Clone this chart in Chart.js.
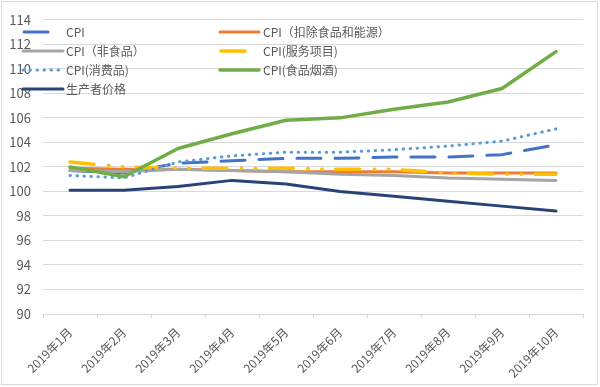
<!DOCTYPE html>
<html><head><meta charset="utf-8">
<script src="https://cdn.jsdelivr.net/npm/chart.js@4.4.0/dist/chart.umd.min.js"></script>
<style>
html,body{margin:0;padding:0;background:#fff;}
#wrap{position:absolute;left:0;top:0;width:600px;height:387px;}
</style></head>
<body><div id="wrap"><canvas id="c" width="600" height="387"></canvas></div>
<script>
const categories = ['2019年1月','2019年2月','2019年3月','2019年4月','2019年5月','2019年6月','2019年7月','2019年8月','2019年9月','2019年10月'];
const cpi      = [101.7, 101.5, 102.3, 102.5, 102.7, 102.7, 102.8, 102.8, 103.0, 103.8];
const coreCpi  = [101.9, 101.8, 101.8, 101.7, 101.6, 101.6, 101.6, 101.5, 101.5, 101.5];
const nonFood  = [101.7, 101.6, 101.8, 101.7, 101.6, 101.4, 101.3, 101.1, 101.0, 100.9];
const services = [102.4, 102.0, 101.9, 101.9, 101.9, 101.8, 101.8, 101.5, 101.4, 101.4];
const goods    = [101.3, 101.1, 102.4, 102.9, 103.2, 103.2, 103.4, 103.7, 104.1, 105.1];
const food     = [102.0, 101.2, 103.5, 104.7, 105.8, 106.0, 106.7, 107.3, 108.4, 111.4];
const ppi      = [100.1, 100.1, 100.4, 100.9, 100.6, 100.0, 99.6, 99.2, 98.8, 98.4];
const yTicks   = [90, 92, 94, 96, 98, 100, 102, 104, 106, 108, 110, 112, 114];

const FONT = '"Noto Sans CJK SC", "Noto Sans", sans-serif';
const TXT = '#595959';

function ds(label, data, color, dash, width, order) {
  return { label, data, borderColor: color, backgroundColor: color, borderWidth: width,
    borderDash: dash, borderCapStyle: 'round', borderJoinStyle: 'round',
    pointRadius: 0, tension: 0, fill: false, order };
}
const datasets = [
  ds('CPI', cpi, '#4472C4', [24, 14], 3, 7),
  ds('CPI（扣除食品和能源）', coreCpi, '#ED7D31', [], 3, 6),
  ds('CPI（非食品）', nonFood, '#A5A5A5', [], 3, 5),
  ds('CPI(服务项目)', services, '#FFC000', [24, 14.5, 0.5, 13.5, 0.5, 13.5], 3.5, 4),
  ds('CPI(消费品)', goods, '#5B9BD5', [0.5, 6.5], 3, 3),
  ds('CPI(食品烟酒)', food, '#70AD47', [], 3.5, 2),
  ds('生产者价格', ppi, '#264478', [], 3, 1)
];

const legendPos = [
  {lx:24, tx:66, y:32, len:24},
  {lx:220, tx:263, y:32, len:39},
  {lx:23, tx:66, y:51, len:40},
  {lx:221, tx:263, y:51, len:24},
  {lx:23, tx:66, y:70, len:40},
  {lx:220, tx:263, y:70, len:39},
  {lx:23, tx:66, y:89, len:40}
];

const customLegend = {
  id: 'customLegend',
  afterDatasetsDraw(chart) {
    const ctx = chart.ctx;
    ctx.save();
    chart.data.datasets.forEach((d, i) => {
      const p = legendPos[i];
      ctx.beginPath();
      ctx.strokeStyle = d.borderColor;
      ctx.lineWidth = d.borderWidth;
      ctx.lineCap = 'round';
      ctx.setLineDash(d.borderDash || []);
      ctx.moveTo(p.lx, p.y);
      ctx.lineTo(p.lx + p.len, p.y);
      ctx.stroke();
      ctx.setLineDash([]);
      ctx.fillStyle = TXT;
      ctx.font = '12px ' + FONT;
      ctx.textBaseline = 'middle';
      ctx.textAlign = 'left';
      ctx.fillText(d.label, p.tx, p.y);
    });
    ctx.restore();
  }
};
const frame = {
  id: 'frame',
  beforeDraw(chart) {
    const ctx = chart.ctx;
    ctx.save();
    ctx.fillStyle = '#fff';
    ctx.fillRect(0, 0, chart.width, chart.height);
    ctx.strokeStyle = '#d9d9d9';
    ctx.lineWidth = 1;
    ctx.strokeRect(1.5, 1.5, 596, 383);
    ctx.restore();
  }
};

new Chart(document.getElementById('c'), {
  type: 'line',
  data: { labels: categories, datasets },
  plugins: [frame, customLegend],
  options: {
    responsive: false, animation: false, devicePixelRatio: 1,
    layout: { padding: { left: 0, right: 17, top: 15, bottom: 0 } },
    plugins: { legend: { display: false }, tooltip: { enabled: false } },
    scales: {
      x: {
        offset: true,
        grid: { display: true, drawOnChartArea: false, drawTicks: true, tickLength: 4, color: '#d9d9d9', offset: true },
        border: { display: true, color: '#d9d9d9', width: 1 },
        ticks: { color: TXT, font: { family: FONT, size: 12 }, maxRotation: 45, minRotation: 45, autoSkip: false, padding: 7 },
        afterFit(s) { s.height = 73; }
      },
      y: {
        min: 90, max: 114,
        afterBuildTicks(s) { s.ticks = yTicks.map(v => ({ value: v })); },
        grid: { color: '#d9d9d9', lineWidth: 1, drawTicks: false },
        border: { display: false },
        ticks: { color: TXT, font: { family: FONT, size: 13 }, padding: 12 },
        afterFit(s) { s.width = 43; }
      }
    }
  }
});
</script></body></html>
